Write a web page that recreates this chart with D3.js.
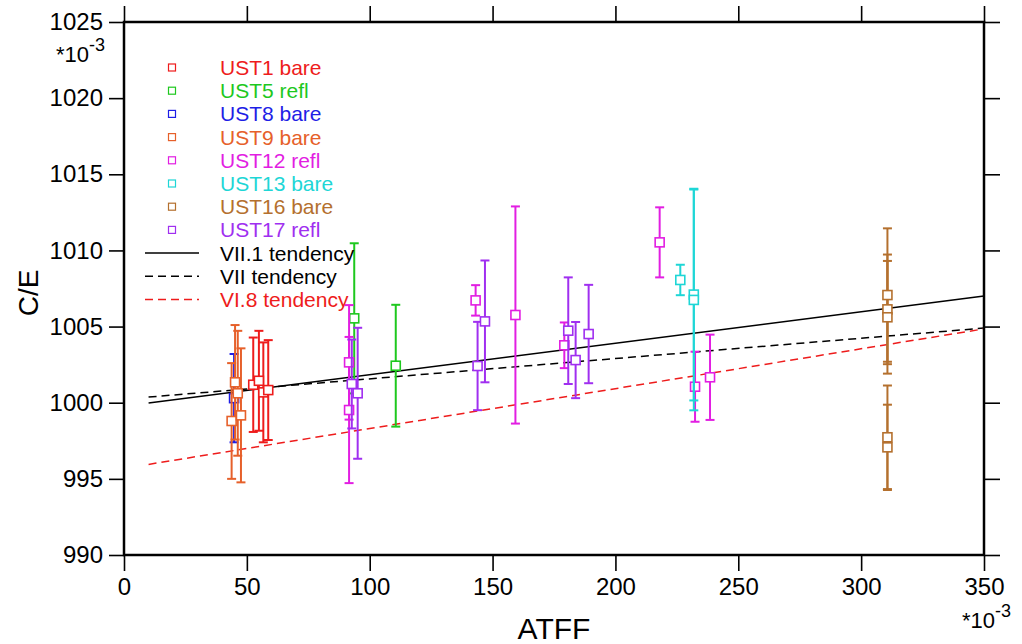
<!DOCTYPE html>
<html><head><meta charset="utf-8">
<script src="https://d3js.org/d3.v7.min.js"></script>
<style>body{margin:0;background:#fff}svg{display:block;font-family:"Liberation Sans",Arial,Helvetica,sans-serif}</style>
</head><body><svg id="c" width="1022" height="644"></svg>
<script>
// ---- data ----
const xTicks = [0, 50, 100, 150, 200, 250, 300, 350];
const yTicks = [990, 995, 1000, 1005, 1010, 1015, 1020, 1025];
const seriesNames = ["UST1 bare","UST5 refl","UST8 bare","UST9 bare","UST12 refl","UST13 bare","UST16 bare","UST17 refl"];
const seriesColors = ["#ee1c1c","#1ec81e","#1e1ee6","#e6602a","#e21ee2","#1ed6d6","#b4702e","#a02ff0"];

const ust1X = [52.6, 54.9, 56.7, 58.7];
const ust1Y = [1001.18, 1001.44, 1000.68, 1000.83];
const ust1E = [3.1, 3.28, 3.28, 3.28];
const ust5X = [93.7, 110.6];
const ust5Y = [1005.54, 1002.43];
const ust5E = [4.93, 4.0];
const ust8X = [44.8];
const ust8Y = [1000.3];
const ust8E = [2.9];
const ust9X = [43.8, 45.2, 46.3, 47.6];
const ust9Y = [998.8, 1001.34, 1000.62, 999.17];
const ust9E = [3.8, 3.76, 4.1, 4.4];
const ust12X = [91.6, 91.6, 143.1, 159.3, 179.2, 218.0, 232.4, 238.5];
const ust12Y = [1002.65, 999.52, 1006.72, 1005.76, 1003.77, 1010.53, 1001.05, 1001.67];
const ust12E = [3.76, 4.8, 1.0, 7.13, 1.5, 2.3, 2.3, 2.8];
const ust13X = [226.4, 231.9, 231.9];
const ust13Y = [1008.06, 1007.1, 1006.75];
const ust13E = [1.0, 6.95, 7.25];
const ust16X = [310.7, 310.7, 310.7, 310.7, 310.7];
const ust16Y = [1007.07, 1006.13, 1005.61, 997.73, 997.07];
const ust16E = [4.38, 3.6, 3.7, 3.4, 2.8];
const ust17X = [92.7, 95.1, 143.9, 146.9, 180.8, 183.8, 189.1];
const ust17Y = [1001.23, 1000.62, 1002.41, 1005.34, 1004.73, 1002.8, 1004.51];
const ust17E = [2.92, 4.3, 2.9, 4.0, 3.5, 2.5, 3.23];

const tendX = [10, 350];
const vii1Y = [999.98, 1007.0];
const viiY = [1000.37, 1004.9];
const vi8Y = [995.95, 1004.85];
const tendNames = ["VII.1 tendency", "VII tendency", "VI.8 tendency"];
const tendColors = ["#000000", "#000000", "#ee1c1c"];

// ---- build ----
const seriesX = [ust1X, ust5X, ust8X, ust9X, ust12X, ust13X, ust16X, ust17X];
const seriesY = [ust1Y, ust5Y, ust8Y, ust9Y, ust12Y, ust13Y, ust16Y, ust17Y];
const seriesE = [ust1E, ust5E, ust8E, ust9E, ust12E, ust13E, ust16E, ust17E];
const tendY = [vii1Y, viiY, vi8Y];
const tendDash = [null, "8,5", "8,5"];

const L = 124, R = 984, T = 22, B = 555;
const x = d3.scaleLinear().domain([0, 350]).range([L, R]);
const y = d3.scaleLinear().domain([990, 1025]).range([B, T]);
const svg = d3.select("#c");

// tendency lines
tendY.forEach((ys, i) => {
  const pts = tendX.map((v, j) => [v, ys[j]]);
  svg.append("path")
    .attr("d", d3.line().x(d => x(d[0])).y(d => y(d[1]))(pts))
    .attr("fill", "none").attr("stroke", tendColors[i]).attr("stroke-width", 1.5)
    .attr("stroke-dasharray", tendDash[i]);
});

// error bars and points
seriesX.forEach((xs, s) => {
  const col = seriesColors[s];
  const g = svg.append("g");
  xs.forEach((xv, k) => {
    const yv = seriesY[s][k], e = seriesE[s][k];
    const px = x(xv);
    g.append("line").attr("x1", px).attr("x2", px).attr("y1", y(yv - e)).attr("y2", y(yv + e))
      .attr("stroke", col).attr("stroke-width", 2);
    [yv - e, yv + e].forEach(v => {
      g.append("line").attr("x1", px - 4.5).attr("x2", px + 4.5).attr("y1", y(v)).attr("y2", y(v))
        .attr("stroke", col).attr("stroke-width", 2);
    });
  });
  xs.forEach((xv, k) => {
    const yv = seriesY[s][k];
    g.append("rect").attr("x", x(xv) - 4.5).attr("y", y(yv) - 4.5).attr("width", 9).attr("height", 9)
      .attr("fill", "#fff").attr("stroke", col).attr("stroke-width", 1.6);
  });
});

// axes
const ax = svg.append("g");
const xb = d3.axisBottom(x).tickValues(xTicks).tickSize(16).tickPadding(7).tickFormat(d3.format("d"));
const xt = d3.axisTop(x).tickValues(xTicks).tickSize(16).tickFormat("");
const yl = d3.axisLeft(y).tickValues(yTicks).tickSize(15).tickPadding(6).tickFormat(d3.format("d"));
const yr = d3.axisRight(y).tickValues(yTicks).tickSize(16).tickFormat("");
[[xb, `translate(0,${B})`], [xt, `translate(0,${T})`], [yl, `translate(${L},0)`], [yr, `translate(${R},0)`]]
  .forEach(([a, tr]) => {
    const g = ax.append("g").attr("transform", tr).call(a);
    g.select(".domain").remove();
    g.selectAll("line").attr("stroke", "#000").attr("stroke-width", 1.6);
    g.selectAll("text").attr("fill", "#000").attr("font-size", 24).attr("font-family", "Liberation Sans, Arial, sans-serif");
  });
svg.append("rect").attr("x", L).attr("y", T).attr("width", R - L).attr("height", B - T)
  .attr("fill", "none").attr("stroke", "#000").attr("stroke-width", 2.5);

// multiplier labels
function mult(xp, yp) {
  const t = svg.append("text").attr("x", xp).attr("y", yp).attr("font-size", 22).attr("fill", "#000");
  t.append("tspan").text("*10");
  t.append("tspan").attr("dy", -11).attr("font-size", 18).text("-3");
}
mult(56, 62);
mult(962, 628);

// axis titles
svg.append("text").attr("x", 554).attr("y", 639).attr("text-anchor", "middle")
  .attr("font-size", 30).attr("fill", "#000").text("ATFF");
svg.append("text").attr("transform", "translate(38,293) rotate(-90)").attr("text-anchor", "middle")
  .attr("font-size", 28).attr("fill", "#000").text("C/E");

// legend
const lg = svg.append("g");
seriesNames.forEach((n, i) => {
  const yy = 67.5 + i * 23.2;
  lg.append("rect").attr("x", 172 - 3.5).attr("y", yy - 3.5).attr("width", 7).attr("height", 7)
    .attr("fill", "#fff").attr("stroke", seriesColors[i]).attr("stroke-width", 1.2);
  lg.append("text").attr("x", 220).attr("y", yy + 7.5).attr("font-size", 21).attr("fill", seriesColors[i]).text(n);
});
tendNames.forEach((n, i) => {
  const yy = 253 + i * 23.2;
  lg.append("line").attr("x1", 145).attr("x2", 199).attr("y1", yy).attr("y2", yy)
    .attr("stroke", tendColors[i]).attr("stroke-width", 1.5).attr("stroke-dasharray", tendDash[i]);
  lg.append("text").attr("x", 220).attr("y", yy + 7.5).attr("font-size", 21).attr("fill", tendColors[i]).text(n);
});
</script></body></html>
